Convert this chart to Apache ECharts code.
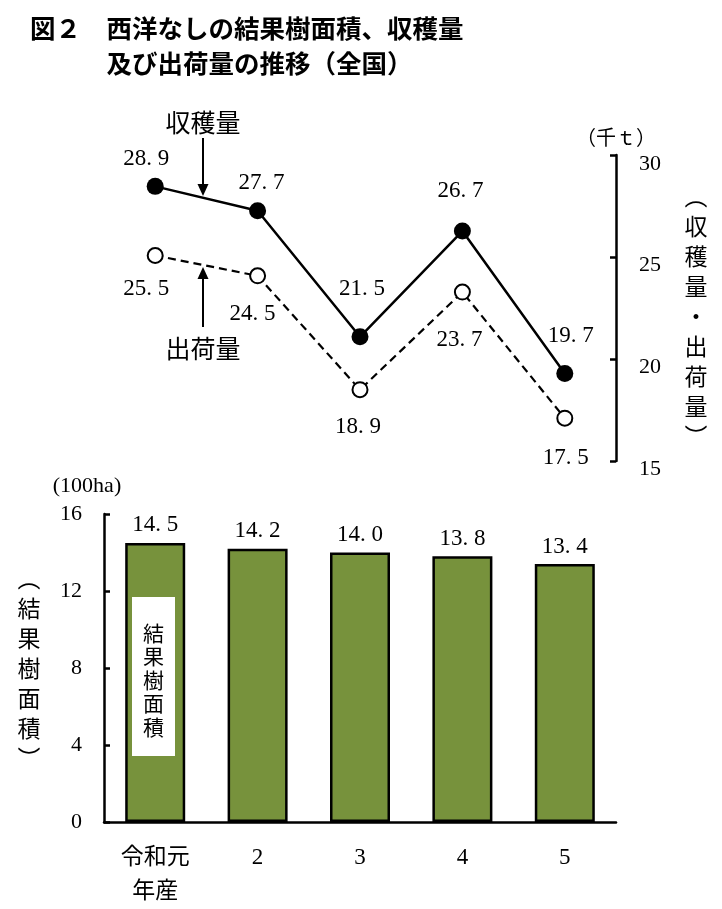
<!DOCTYPE html>
<html><head><meta charset="utf-8">
<script src="https://cdn.jsdelivr.net/npm/echarts/dist/echarts.min.js"></script>
<style>html,body{margin:0;padding:0;background:#fff}#c{width:722px;height:909px}</style>
</head><body><div id="c"></div>
<script>
// ---- data ----
const years = ['令和元\n年産', '2', '3', '4', '5'];
const harvest = [28.9, 27.7, 21.5, 26.7, 19.7];   // 収穫量 (千t)
const shipment = [25.5, 24.5, 18.9, 23.7, 17.5];  // 出荷量 (千t)
const area = [14.5, 14.2, 14.0, 13.8, 13.4];      // 結果樹面積 (100ha)
const lineAxisTicks = [15, 20, 25, 30];
const barAxisTicks = [0, 4, 8, 12, 16];

// ---- styling ----
const NUM_FONT = '"Liberation Serif", "Noto Sans CJK JP", serif';
const JP_FONT = '"Noto Sans CJK JP", sans-serif';
const fmt = v => Number(v).toFixed(1).replace('.', '. ');
const vert = s => s.split('').join('\n');
const harvestLabelOffsets = [[-9, -2], [4, -3], [2, -23], [-2, -15], [6, -12]];
const shipLabelOffsets = [[-9, 8], [-5, 13], [-2, 12], [-3, 23], [1, 15]];

const lMin = lineAxisTicks[0], lMax = lineAxisTicks[lineAxisTicks.length - 1], lInt = lineAxisTicks[1] - lineAxisTicks[0];
const bMin = barAxisTicks[0], bMax = barAxisTicks[barAxisTicks.length - 1], bInt = barAxisTicks[1] - barAxisTicks[0];

const chart = echarts.init(document.getElementById('c'), null, {renderer: 'canvas'});
const black = '#000';

const option = {
  animation: false,
  backgroundColor: '#fff',
  title: {
    text: '図２　西洋なしの結果樹面積、収穫量\n　　　及び出荷量の推移（全国）',
    left: 25, top: 6,
    textStyle: {fontFamily: JP_FONT, fontSize: 25.5, fontWeight: 'bold', lineHeight: 35, color: black}
  },
  grid: [
    {left: 104, width: 512, top: 514, height: 309},
    {left: 104, width: 512, top: 164, height: 305},
    {left: 104, width: 512, top: 155, height: 306}
  ],
  xAxis: [
    {type: 'category', gridIndex: 0, data: years,
     axisLine: {lineStyle: {color: black, width: 2.5}}, axisTick: {show: false},
     axisLabel: {color: black, fontFamily: NUM_FONT, fontSize: 23, lineHeight: 34, margin: 19}},
    {type: 'category', gridIndex: 1, data: years, show: false},
    {type: 'category', gridIndex: 2, data: years, show: false}
  ],
  yAxis: [
    {type: 'value', gridIndex: 0, min: bMin, max: bMax, interval: bInt,
     splitLine: {show: false},
     axisLine: {show: true, lineStyle: {color: black, width: 2.5}},
     axisTick: {show: true, inside: true, length: 6, lineStyle: {color: black, width: 2.5}},
     axisLabel: {color: black, fontFamily: NUM_FONT, fontSize: 22, margin: 22},
     name: '(100ha)', nameLocation: 'end', nameGap: 17,
     nameTextStyle: {color: black, fontFamily: NUM_FONT, fontSize: 22, align: 'center', padding: [0, 34, 0, 0]}},
    {type: 'value', gridIndex: 1, position: 'right', min: lMin, max: lMax, interval: lInt,
     splitLine: {show: false}, axisLine: {show: false}, axisTick: {show: false},
     axisLabel: {color: black, fontFamily: NUM_FONT, fontSize: 22, margin: 23},
     name: vert('︵収穫量・出荷量︶'), nameLocation: 'middle', nameRotate: 0, nameGap: 80,
     nameTextStyle: {color: black, fontFamily: JP_FONT, fontSize: 23, lineHeight: 30, align: 'center', verticalAlign: 'middle'}},
    {type: 'value', gridIndex: 2, position: 'right', min: lMin, max: lMax, interval: lInt,
     splitLine: {show: false},
     axisLine: {show: true, lineStyle: {color: black, width: 2.5}},
     axisTick: {show: true, inside: true, length: 6, lineStyle: {color: black, width: 2.5}},
     axisLabel: {show: false},
     name: '（千ｔ）', nameLocation: 'end', nameGap: 5,
     nameTextStyle: {color: black, fontFamily: NUM_FONT, fontSize: 20, align: 'center'}},
    {type: 'value', gridIndex: 0, position: 'left', min: bMin, max: bMax, interval: bInt,
     splitLine: {show: false}, axisLine: {show: false}, axisTick: {show: false}, axisLabel: {show: false},
     name: vert('︵結果樹面積︶'), nameLocation: 'middle', nameRotate: 0, nameGap: 75,
     nameTextStyle: {color: black, fontFamily: JP_FONT, fontSize: 23, lineHeight: 30, align: 'center', verticalAlign: 'middle'}}
  ],
  series: [
    {type: 'bar', name: '結果樹面積', xAxisIndex: 0, yAxisIndex: 0, data: area, barWidth: 60,
     itemStyle: {color: '#77923c', borderColor: black, borderWidth: 2.5},
     label: {show: true, position: 'top', distance: 6, color: black, fontFamily: NUM_FONT, fontSize: 23,
             formatter: p => fmt(p.value)}},
    {type: 'line', name: '収穫量', xAxisIndex: 1, yAxisIndex: 1,
     data: harvest.map((v, i) => ({value: v, label: {offset: harvestLabelOffsets[i]}})),
     symbol: 'circle', symbolSize: 17, itemStyle: {color: black},
     lineStyle: {color: black, width: 2.5}, z: 4,
     label: {show: true, position: 'top', distance: 5, color: black, fontFamily: NUM_FONT, fontSize: 23,
             formatter: p => fmt(p.value)}},
    {type: 'line', name: '出荷量', xAxisIndex: 1, yAxisIndex: 1,
     data: shipment.map((v, i) => ({value: v, label: {offset: shipLabelOffsets[i]}})),
     symbol: 'circle', symbolSize: 15, itemStyle: {color: '#fff', borderColor: black, borderWidth: 2},
     lineStyle: {color: black, width: 2.2, type: [8, 5]}, z: 3,
     label: {show: true, position: 'bottom', distance: 5, color: black, fontFamily: NUM_FONT, fontSize: 23,
             formatter: p => fmt(p.value)}}
  ],
  graphic: [
    {type: 'text', x: 203, y: 122, z: 100, style: {text: '収穫量', fontFamily: JP_FONT, fontSize: 25, align: 'center', verticalAlign: 'middle', fill: black}},
    {type: 'line', z: 100, shape: {x1: 203, y1: 138, x2: 203, y2: 186}, style: {stroke: black, lineWidth: 2}},
    {type: 'polygon', z: 100, shape: {points: [[197.5, 184], [208.5, 184], [203, 196]]}, style: {fill: black}},
    {type: 'line', z: 100, shape: {x1: 203, y1: 277, x2: 203, y2: 327}, style: {stroke: black, lineWidth: 2}},
    {type: 'polygon', z: 100, shape: {points: [[197.5, 279], [208.5, 279], [203, 267]]}, style: {fill: black}},
    {type: 'text', x: 203, y: 348, z: 100, style: {text: '出荷量', fontFamily: JP_FONT, fontSize: 25, align: 'center', verticalAlign: 'middle', fill: black}},
    {type: 'rect', z: 100, shape: {x: 132, y: 597, width: 43, height: 159}, style: {fill: '#fff'}},
    {type: 'text', x: 153.5, y: 680, z: 101, style: {text: vert('結果樹面積'), fontFamily: JP_FONT, fontSize: 21, lineHeight: 23.5, align: 'center', verticalAlign: 'middle', fill: black}}
  ]
};
chart.setOption(option);
</script>
</body></html>
